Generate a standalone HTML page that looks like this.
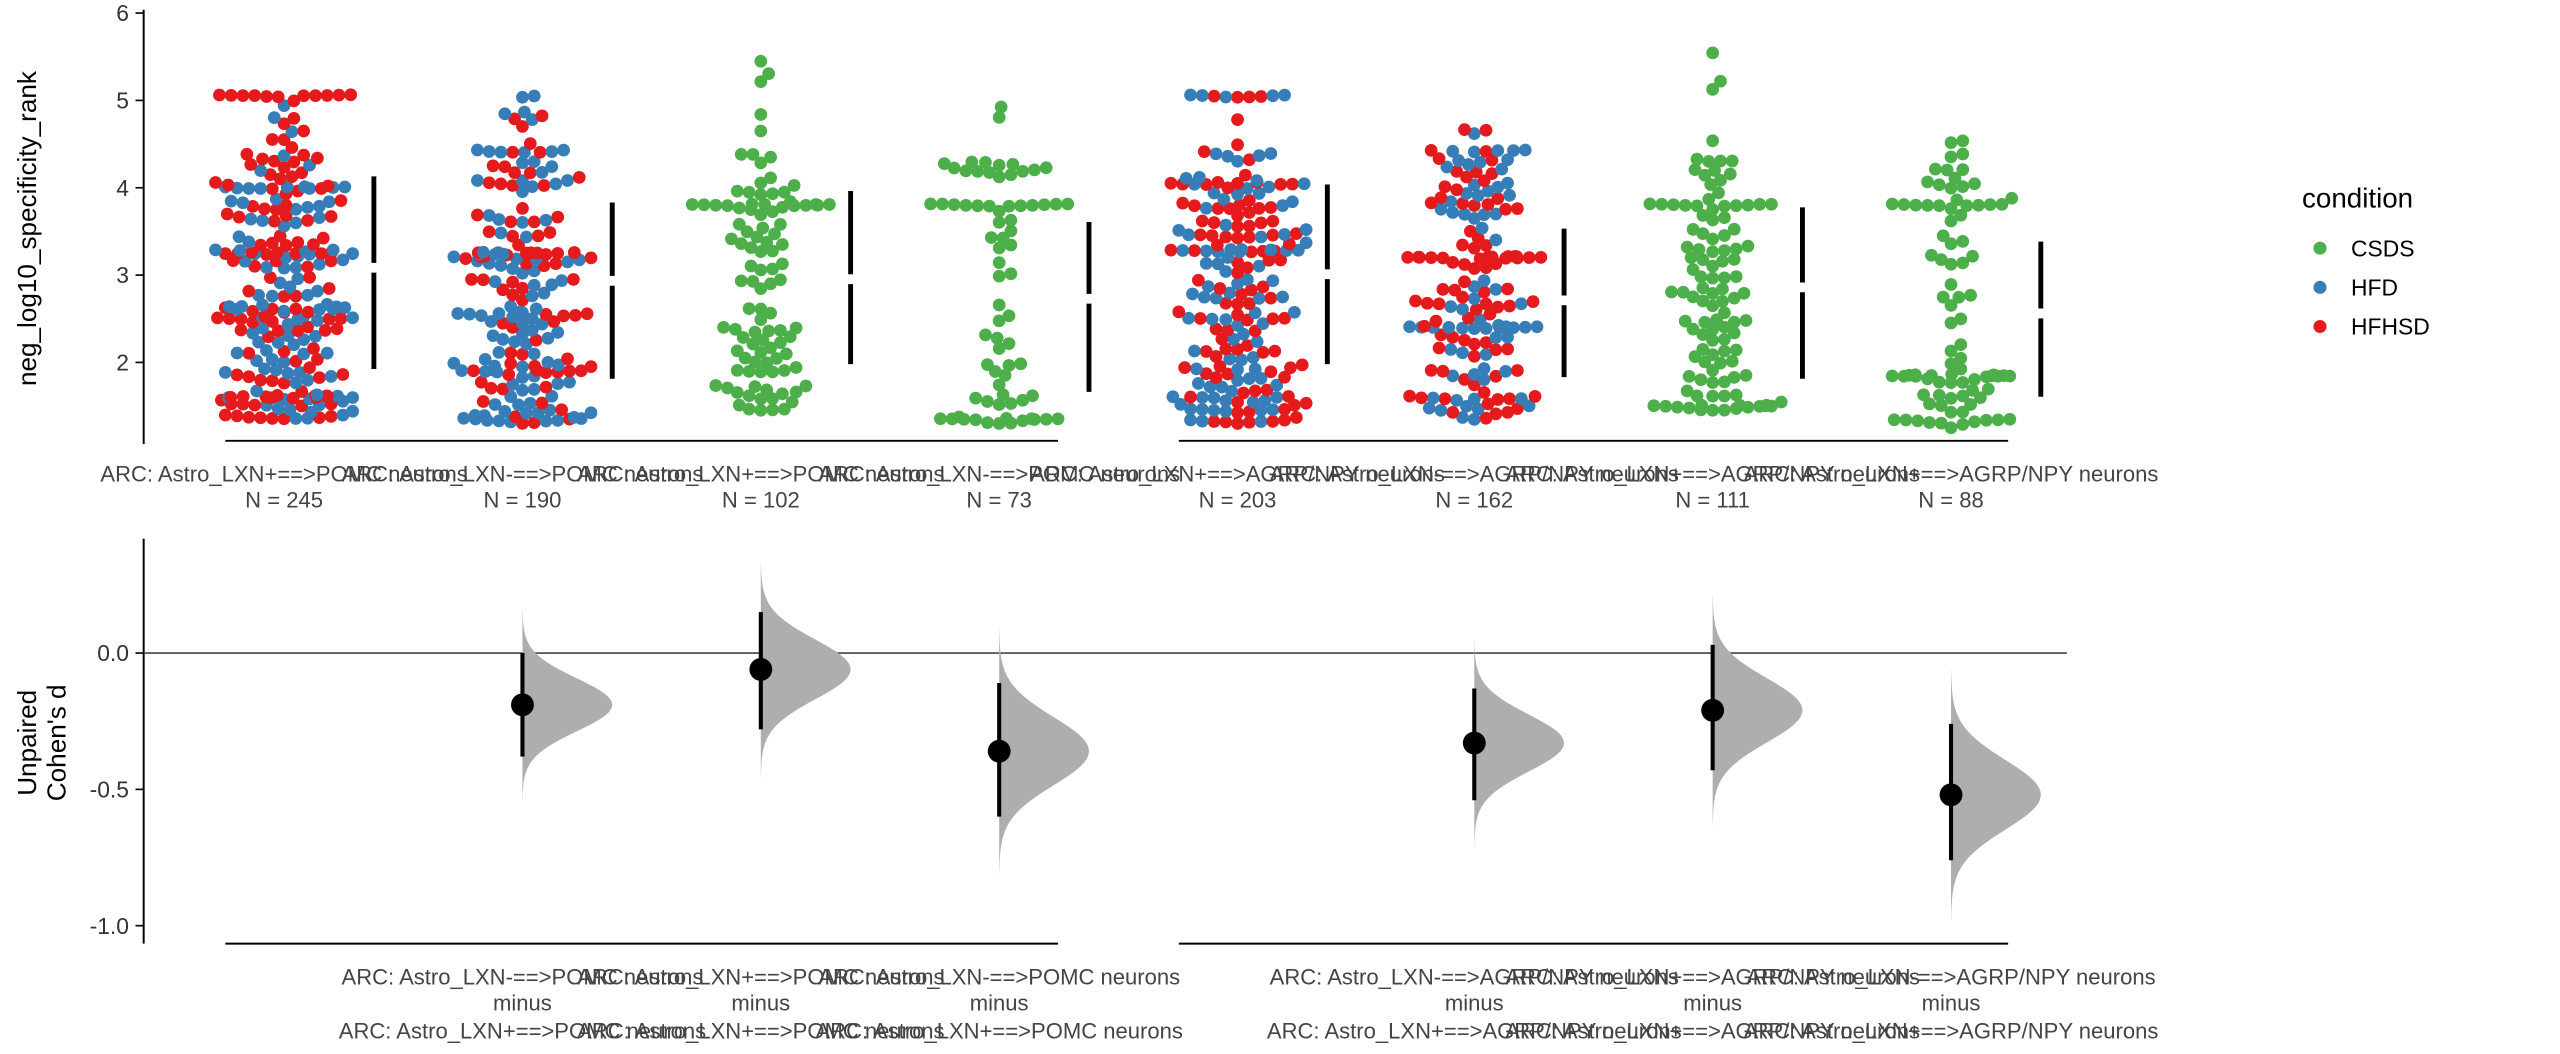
<!DOCTYPE html>
<html><head><meta charset="utf-8">
<style>
html,body{margin:0;padding:0;background:#fff;}
svg{display:block;}
text{font-family:"Liberation Sans",Arial,sans-serif;}
</style></head>
<body>
<svg id="s" width="2560" height="1054" viewBox="0 0 1568 645.6" preserveAspectRatio="none" xmlns="http://www.w3.org/2000/svg">
<g id="g"></g>
</svg>
<script>
(function(){
var NS="http://www.w3.org/2000/svg",G=document.getElementById("g");
function el(t,a,txt){var e=document.createElementNS(NS,t);for(var k in a)e.setAttribute(k,a[k]);if(txt!=null)e.textContent=txt;G.appendChild(e);return e;}
var seed=12345;function rnd(){seed=(seed*1103515245+12345)%2147483648;return seed/2147483648;}
function yT(v){return 8+(6-v)*53.5;}
function yB(v){return 400-v*167;}
var GREEN="#4daf4a",BLUE="#377eb8",RED="#e41a1c";
var cx=[174,320,466,612,758,903,1049,1195];
var N=[245,190,102,73,203,162,111,88];
el("line",{x1:88,y1:6,x2:88,y2:272,stroke:"#000","stroke-width":1.2});
[6,5,4,3,2].forEach(function(v){var y=yT(v);el("line",{x1:83,y1:y,x2:88,y2:y,stroke:"#000","stroke-width":1});el("text",{x:79,y:y+5,"text-anchor":"end","font-size":14,fill:"#333"},String(v));});
el("text",{x:0,y:0,"font-size":16,fill:"#000","text-anchor":"middle",transform:"translate(22,140) rotate(-90)"},"neg_log10_specificity_rank");
el("line",{x1:138,y1:270,x2:648,y2:270,stroke:"#000","stroke-width":1.2});
el("line",{x1:722,y1:270,x2:1230,y2:270,stroke:"#000","stroke-width":1.2});
var clusters=[
 [[5.05,11],[4.0,9],[3.25,9],[1.6,11],[2.5,5]],
 [[5.05,2],[4.42,7],[3.25,11],[2.55,6],[1.9,7],[1.35,4]],
 [[3.8,10],[1.9,5]],
 [[3.8,10],[1.35,8],[4.2,3]],
 [[5.05,9],[3.28,14],[3.45,7],[2.5,6],[4.05,7],[1.6,5]],
 [[4.42,7],[3.2,14],[2.4,13],[1.6,5]],
 [[3.8,10],[1.5,10]],
 [[3.8,9],[1.85,11],[1.35,4]]
];
var ranges=[[1.35,5.0],[1.3,4.9],[1.45,5.8],[1.3,5.0],[1.3,5.0],[1.3,4.7],[1.45,5.8],[1.25,4.55]];
var mixed=[1,1,0,0,1,1,0,0];
var MAXW=43;
for(var gi=0;gi<8;gi++){
 var pts=[];var n=N[gi];var cl=clusters[gi];
 cl.forEach(function(c){for(var i=0;i<c[1];i++){pts.push(c[0]+(rnd()-0.5)*0.03);}});
 var lo=ranges[gi][0],hi=ranges[gi][1];
 while(pts.length<n){var u=rnd();var v=lo+Math.pow(u,1.2)*(Math.min(hi,4.4)-lo);if(rnd()<0.05)v=4.4+rnd()*(hi-4.4);pts.push(v);}
 pts.sort(function(a,b){return a-b;});
 var placed=[];var d=6.4;
 var out=[];
 pts.forEach(function(v){
  var y=yT(v);var best=null;
  for(var k=0;k*1.2<=MAXW;k++){
   var offs=[k*1.2,-k*1.2];
   for(var j=0;j<2;j++){var x=offs[j];var ok=true;
    for(var p=placed.length-1;p>=0;p--){var q=placed[p];if(y-q[1]>d)break;var dx=q[0]-x,dy=q[1]-y;if(dx*dx+dy*dy<d*d){ok=false;break;}}
    if(ok){best=x;break;}}
   if(best!==null)break;
  }
  if(best===null)best=(rnd()-0.5)*2*MAXW*0.8;
  placed.push([best,y]);
  var col;
  if(mixed[gi]){col=rnd()<0.55?RED:BLUE; if(gi==1&&v<2.7&&rnd()<0.4)col=BLUE; if(gi==5&&Math.abs(v-3.2)<0.1)col=RED; if(gi==5&&Math.abs(v-2.4)<0.1&&rnd()<0.7)col=BLUE; if(gi==0&&Math.abs(v-5.05)<0.05)col=RED;}
  else col=GREEN;
  out.push([best,y,col]);
 });
 out.forEach(function(o){el("circle",{cx:cx[gi]+o[0],cy:o[1],r:3.9,fill:o[2]});});
}
var sd=[[108,226,164],[124,232,172],[117,223,171],[136,240,183],[113,223,168],[140,231,184],[127,232,176],[148,243,192]];
for(var i=0;i<8;i++){var x=cx[i]+55;var s=sd[i];
 el("line",{x1:x,y1:s[0],x2:x,y2:s[2]-3,stroke:"#000","stroke-width":3});
 el("line",{x1:x,y1:s[2]+3,x2:x,y2:s[1],stroke:"#000","stroke-width":3});}
var names=["ARC: Astro_LXN+==>POMC neurons","ARC: Astro_LXN-==>POMC neurons","ARC: Astro_LXN+==>POMC neurons","ARC: Astro_LXN-==>POMC neurons","ARC: Astro_LXN+==>AGRP/NPY neurons","ARC: Astro_LXN-==>AGRP/NPY neurons","ARC: Astro_LXN+==>AGRP/NPY neurons","ARC: Astro_LXN+==>AGRP/NPY neurons"];
for(var i=0;i<8;i++){
 el("text",{x:cx[i],y:295,"text-anchor":"middle","font-size":13.5,fill:"#444"},names[i]);
 el("text",{x:cx[i],y:311,"text-anchor":"middle","font-size":13.5,fill:"#444"},"N = "+N[i]);
}
el("text",{x:1410,y:127,"font-size":17,fill:"#000"},"condition");
[["CSDS",GREEN,152],["HFD",BLUE,176],["HFHSD",RED,200]].forEach(function(l){
 el("circle",{cx:1421,cy:l[2],r:4,fill:l[1]});
 el("text",{x:1440,y:l[2]+5,"font-size":14,fill:"#000"},l[0]);});
el("line",{x1:88,y1:330,x2:88,y2:578,stroke:"#000","stroke-width":1.2});
[[0,"0.0"],[-0.5,"-0.5"],[-1,"-1.0"]].forEach(function(t){var y=yB(t[0]);el("line",{x1:83,y1:y,x2:88,y2:y,stroke:"#000","stroke-width":1});el("text",{x:79,y:y+5,"text-anchor":"end","font-size":14,fill:"#333"},t[1]);});
el("text",{x:0,y:0,"font-size":16,fill:"#000","text-anchor":"middle",transform:"translate(22,455) rotate(-90)"},"Unpaired");
el("text",{x:0,y:0,"font-size":16,fill:"#000","text-anchor":"middle",transform:"translate(40,455) rotate(-90)"},"Cohen's d");
el("line",{x1:88,y1:400,x2:1266,y2:400,stroke:"#444","stroke-width":1});
el("line",{x1:138,y1:578,x2:648,y2:578,stroke:"#000","stroke-width":1.2});
el("line",{x1:722,y1:578,x2:1230,y2:578,stroke:"#000","stroke-width":1.2});
var eff=[[1,-0.19,0,-0.38],[2,-0.06,0.15,-0.28],[3,-0.36,-0.11,-0.6],[5,-0.33,-0.13,-0.54],[6,-0.21,0.03,-0.43],[7,-0.52,-0.26,-0.76]];
eff.forEach(function(e){
 var x=cx[e[0]];var m=e[1];var s=(e[2]-e[3])/3.92;
 var d="M"+x+","+yB(m+3.6*s);
 for(var k=0;k<=80;k++){var v=m+3.6*s-k*(7.2*s/80);var z=(v-m)/s;var w=55*Math.exp(-z*z/2);d+=" L"+(x+w).toFixed(2)+","+yB(v).toFixed(2);}
 d+=" L"+x+","+yB(m-3.6*s)+" Z";
 el("path",{d:d,fill:"#aeaeae"});
 el("line",{x1:x,y1:yB(e[2]),x2:x,y2:yB(e[3]),stroke:"#000","stroke-width":2.5});
 el("circle",{cx:x,cy:yB(m),r:7,fill:"#000"});
});
var bl=[[1,"ARC: Astro_LXN-==>POMC neurons","ARC: Astro_LXN+==>POMC neurons"],[2,"ARC: Astro_LXN+==>POMC neurons","ARC: Astro_LXN+==>POMC neurons"],[3,"ARC: Astro_LXN-==>POMC neurons","ARC: Astro_LXN+==>POMC neurons"],[5,"ARC: Astro_LXN-==>AGRP/NPY neurons","ARC: Astro_LXN+==>AGRP/NPY neurons"],[6,"ARC: Astro_LXN+==>AGRP/NPY neurons","ARC: Astro_LXN+==>AGRP/NPY neurons"],[7,"ARC: Astro_LXN-==>AGRP/NPY neurons","ARC: Astro_LXN+==>AGRP/NPY neurons"]];
bl.forEach(function(b){var x=cx[b[0]];
 el("text",{x:x,y:603,"text-anchor":"middle","font-size":13.5,fill:"#444"},b[1]);
 el("text",{x:x,y:619,"text-anchor":"middle","font-size":13.5,fill:"#444"},"minus");
 el("text",{x:x,y:636,"text-anchor":"middle","font-size":13.5,fill:"#444"},b[2]);});
})();
</script>
</body></html>
